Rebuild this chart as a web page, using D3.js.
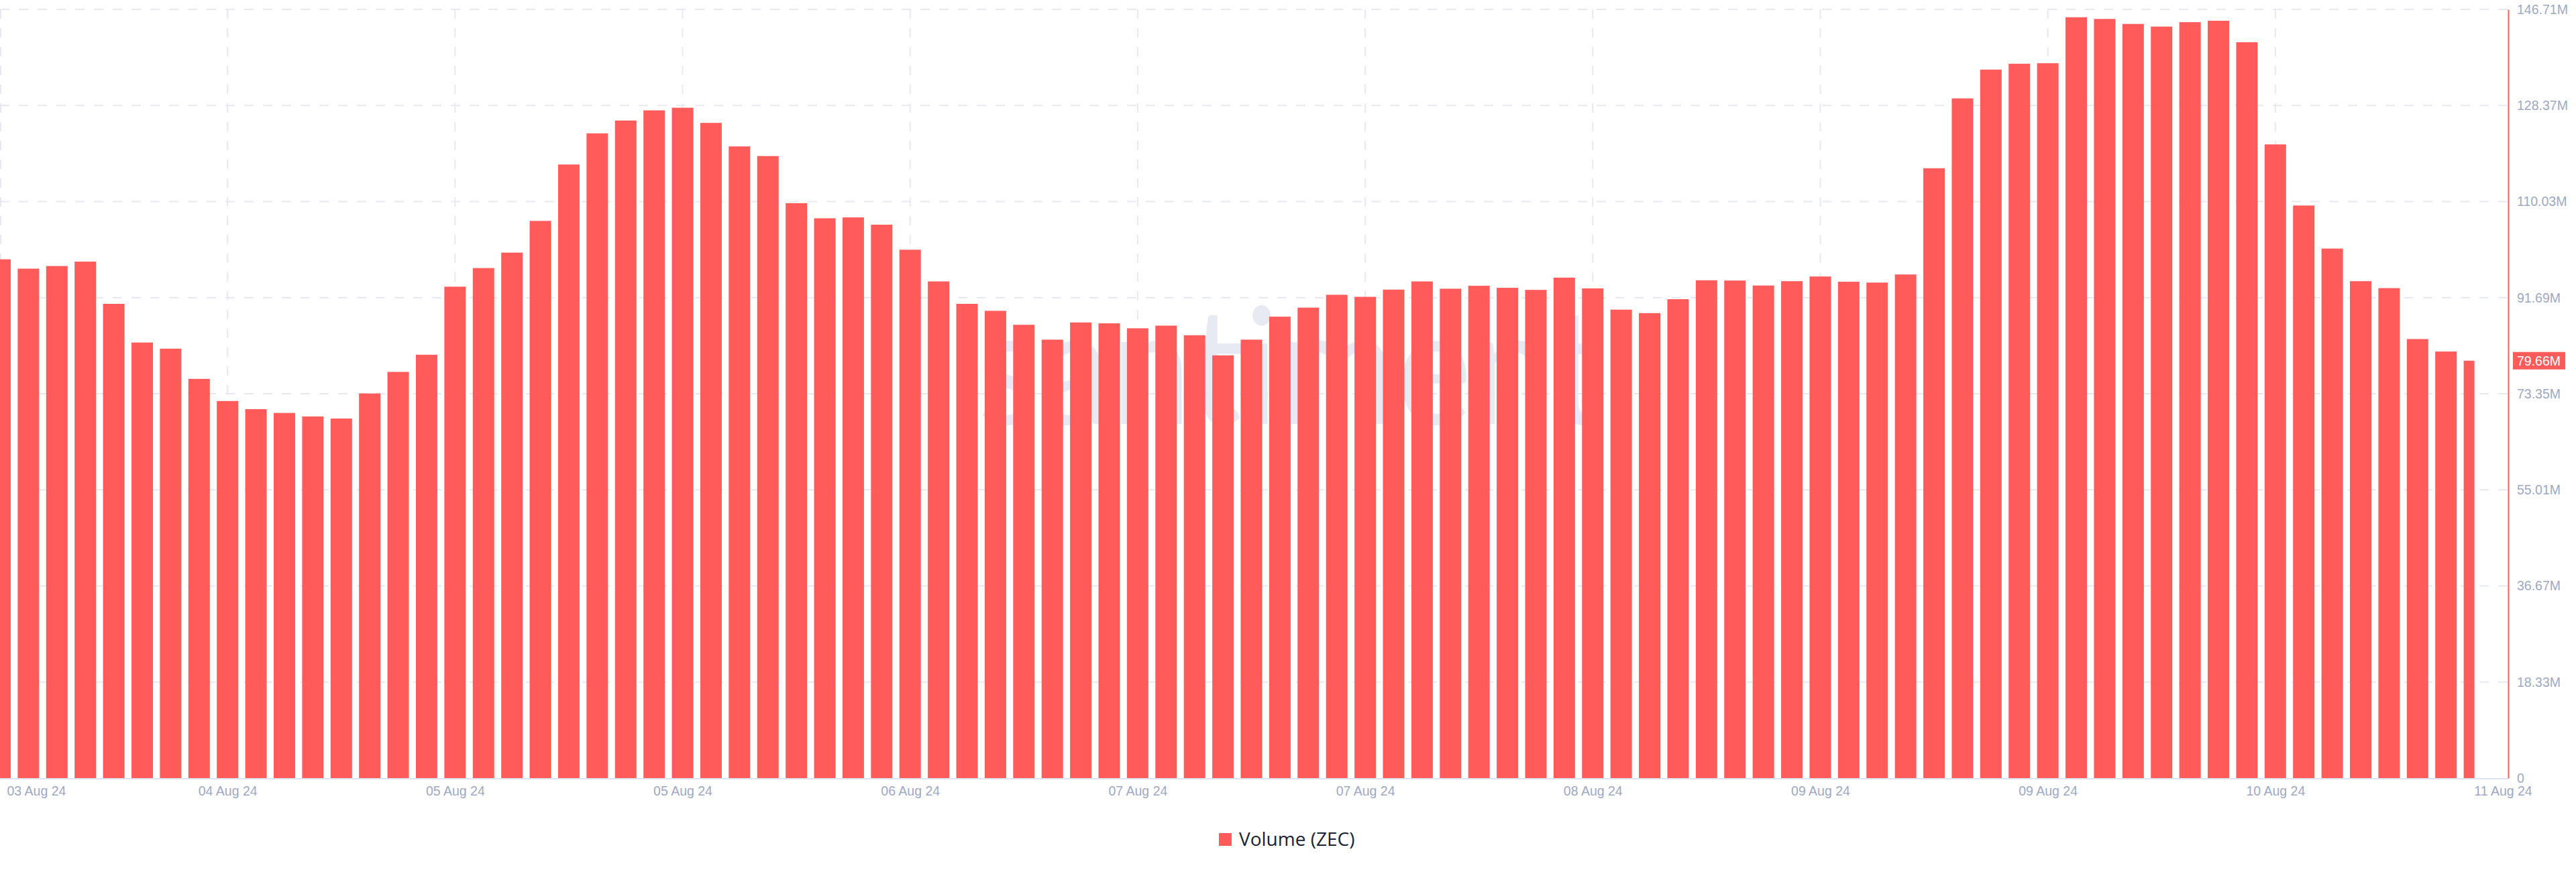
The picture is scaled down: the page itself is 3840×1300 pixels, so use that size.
<!DOCTYPE html>
<html>
<head>
<meta charset="utf-8">
<script src="https://cdn.jsdelivr.net/npm/d3@7"></script>
<style>
  html, body { margin: 0; padding: 0; background: #ffffff; }
  svg { display: block; }
</style>
</head>
<body>
<svg id="chart" width="3840" height="1300"></svg>
<script>
// ---- data (ZEC volume, millions) ----
const volume = [
  99.01, 97.23, 97.73, 98.57, 90.51, 83.13, 81.96, 76.19, 71.97, 70.41,
  69.69, 69.02, 68.63, 73.41, 77.52, 80.80, 93.79, 97.34, 100.29, 106.34,
  117.11, 123.05, 125.50, 127.44, 127.94, 125.05, 120.56, 118.72, 109.73, 106.84,
  107.01, 105.62, 100.84, 94.79, 90.51, 89.18, 86.51, 83.68, 86.96, 86.79,
  85.85, 86.35, 84.52, 80.68, 83.68, 88.07, 89.79, 92.24, 91.85, 93.23,
  94.79, 93.40, 93.96, 93.57, 93.18, 95.51, 93.46, 89.40, 88.74, 91.40,
  95.01, 94.96, 94.01, 94.84, 95.73, 94.73, 94.57, 96.12, 116.39, 129.72,
  135.22, 136.33, 136.44, 145.21, 144.88, 143.93, 143.43, 144.27, 144.54, 140.44,
  120.94, 109.28, 101.06, 94.84, 93.51, 83.79, 81.41, 79.66
];
const xTickIndex = [0, 8, 16, 24, 32, 40, 48, 56, 64, 72, 80, 88];
const xTickLabels = ["03 Aug 24", "04 Aug 24", "05 Aug 24", "05 Aug 24", "06 Aug 24", "07 Aug 24",
                     "07 Aug 24", "08 Aug 24", "09 Aug 24", "09 Aug 24", "10 Aug 24", "11 Aug 24"];
const yTickValues = [0, 18.33, 36.67, 55.01, 73.35, 91.69, 110.03, 128.37, 146.71];
const yTickLabels = ["0", "18.33M", "36.67M", "55.01M", "73.35M", "91.69M", "110.03M", "128.37M", "146.71M"];
const yMax = 146.71;
const lastValueLabel = "79.66M";
const seriesName = "Volume (ZEC)";
const watermark = "santiment";

// ---- layout ----
const W = 3840, H = 1300;
const plotLeft = 0, plotTop = 14, plotBottom = 1160, axisX = 3739;
const barColor = "#ff5b5b";
const gridColor = "#e7e9f2";
const labelColor = "#9ea8c3";

const svg = d3.select("#chart");
svg.append("rect").attr("width", W).attr("height", H).attr("fill", "#fff");

const x = d3.scaleLinear().domain([0, 88]).range([plotLeft, 3731]);
const y = d3.scaleLinear().domain([0, yMax]).range([plotBottom, plotTop]);

// watermark
svg.append("text")
  .attr("x", 1923).attr("y", 632)
  .attr("text-anchor", "middle")
  .attr("font-family", "Lato, 'Open Sans', sans-serif")
  .attr("font-size", 240)
  .attr("textLength", 931)
  .attr("lengthAdjust", "spacingAndGlyphs")
  .attr("fill", "#e7eaf2")
  .text(watermark);

// horizontal grid
svg.append("g").selectAll("line")
  .data(yTickValues.slice(1))
  .join("line")
  .attr("x1", plotLeft).attr("x2", axisX)
  .attr("y1", d => y(d)).attr("y2", d => y(d))
  .attr("stroke", gridColor).attr("stroke-width", 2)
  .attr("stroke-dasharray", "14,14");

// vertical grid
svg.append("g").selectAll("line")
  .data(xTickIndex.slice(0, -1))
  .join("line")
  .attr("x1", d => Math.max(1, x(d))).attr("x2", d => Math.max(1, x(d)))
  .attr("y1", plotTop).attr("y2", plotBottom)
  .attr("stroke", gridColor).attr("stroke-width", 2)
  .attr("stroke-dasharray", "14,14");

// clip for bars
svg.append("clipPath").attr("id", "clip")
  .append("rect")
  .attr("x", plotLeft).attr("y", 0)
  .attr("width", x(volume.length - 1) - plotLeft).attr("height", plotBottom);

const barW = 32;
svg.append("g").attr("clip-path", "url(#clip)")
  .selectAll("rect")
  .data(volume)
  .join("rect")
  .attr("x", (d, i) => x(i) - barW / 2)
  .attr("width", barW)
  .attr("y", d => y(d))
  .attr("height", d => plotBottom - y(d))
  .attr("fill", barColor);

// bottom axis line
svg.append("line")
  .attr("x1", plotLeft).attr("x2", axisX)
  .attr("y1", plotBottom + 1).attr("y2", plotBottom + 1)
  .attr("stroke", "#dfe3ee").attr("stroke-width", 2);

// x axis labels
const xAxis = d3.axisBottom(x)
  .tickValues(xTickIndex)
  .tickFormat((d, i) => xTickLabels[i])
  .tickSize(0).tickPadding(12);
const gx = svg.append("g").attr("transform", `translate(0,${plotBottom})`).call(xAxis);
gx.select(".domain").remove();
gx.selectAll("text")
  .attr("fill", labelColor)
  .attr("font-family", "'Liberation Sans', Arial, sans-serif")
  .attr("font-size", 19.5);
gx.selectAll(".tick").filter((d, i) => i === 0).select("text")
  .attr("text-anchor", "start").attr("x", 10);

// y axis (right)
const yAxis = d3.axisRight(y)
  .tickValues(yTickValues)
  .tickFormat((d, i) => yTickLabels[i])
  .tickSize(0).tickSizeOuter(0).tickPadding(13);
const gy = svg.append("g").attr("transform", `translate(${axisX},0)`).call(yAxis);
gy.select(".domain").attr("stroke", barColor).attr("stroke-width", 2);
gy.selectAll("text")
  .attr("fill", labelColor)
  .attr("font-family", "'Liberation Sans', Arial, sans-serif")
  .attr("font-size", 19.5);

// last value badge
const lastY = y(volume[volume.length - 1]);
svg.append("rect")
  .attr("x", axisX + 7).attr("y", lastY - 13)
  .attr("width", 78).attr("height", 26)
  .attr("fill", barColor);
svg.append("text")
  .attr("x", axisX + 13).attr("y", lastY)
  .attr("dy", "0.35em")
  .attr("fill", "#ffffff")
  .attr("font-family", "'Liberation Sans', Arial, sans-serif")
  .attr("font-size", 19.5)
  .text(lastValueLabel);

// legend
const lg = svg.append("g");
lg.append("rect").attr("x", 1817).attr("y", 1242).attr("width", 19).attr("height", 19).attr("fill", barColor);
lg.append("text")
  .attr("x", 1847).attr("y", 1261)
  .attr("fill", "#1b2235")
  .attr("font-family", "'Open Sans', Lato, sans-serif")
  .attr("font-size", 28)
  .text(seriesName);
</script>
</body>
</html>
